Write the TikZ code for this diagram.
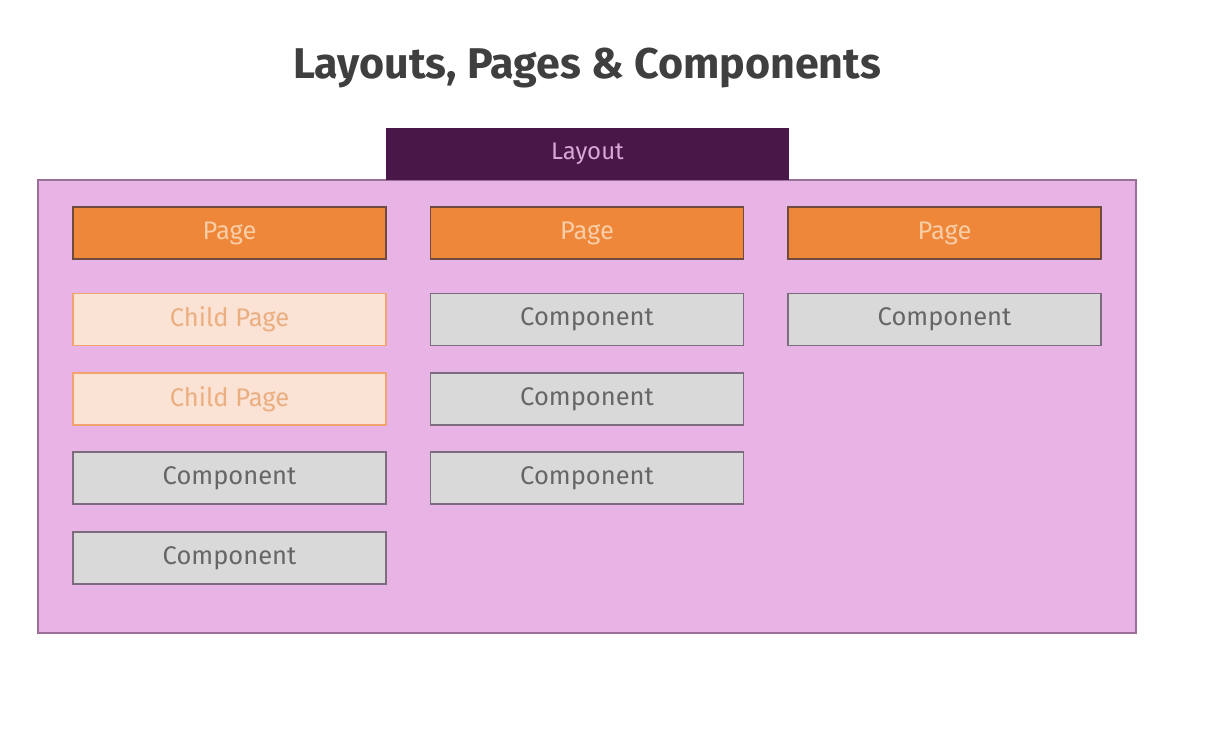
\documentclass[tikz,border=0pt]{standalone}
\usepackage{fontspec}
\setmainfont{Fira Sans}
\definecolor{layoutdark}{HTML}{4A1848}
\definecolor{layouttext}{HTML}{D9A6D6}
\definecolor{pinkfill}{HTML}{E8B4E6}
\definecolor{pinkline}{HTML}{9A7099}
\definecolor{pagefill}{HTML}{EE873A}
\definecolor{pageline}{HTML}{6E4B3C}
\definecolor{pagetext}{HTML}{F9CDA6}
\definecolor{childfill}{HTML}{FAE3D4}
\definecolor{childline}{HTML}{F2A46E}
\definecolor{childtext}{HTML}{EBAE80}
\definecolor{compfill}{HTML}{D9D9D9}
\definecolor{compline}{HTML}{7D6C7D}
\definecolor{comptext}{HTML}{666666}
\definecolor{titletext}{HTML}{3F3F3F}
\begin{document}
\begin{tikzpicture}[x=1pt,y=-1pt,
  boxbase/.style={draw, line width=1.6pt, minimum width=313pt, minimum height=52pt,
    inner sep=0pt, font=\fontsize{25.5}{29}\selectfont},
  pagebox/.style={boxbase, fill=pagefill, draw=pageline, text=pagetext},
  childbox/.style={boxbase, fill=childfill, draw=childline, text=childtext},
  compbox/.style={boxbase, fill=compfill, draw=compline, text=comptext}]
\useasboundingbox (0,0) rectangle (1222,740);
\fill[white] (0,0) rectangle (1222,740);

% title
\node[font=\fontsize{43}{50}\selectfont\bfseries, text=titletext] (title) at (587,68) {Layouts, Pages \& Components};

% layout frame and tab
\draw[fill=pinkfill, draw=pinkline, line width=1.6pt] (38,180) rectangle (1136,633);
\node[fill=layoutdark, minimum width=403pt, minimum height=52pt, inner sep=0pt,
  text=layouttext, font=\fontsize{24}{28}\selectfont] (layout) at (587.5,154) {Layout};

% column 1
\node[pagebox]  (p1)  at (229.5,233) {Page};
\node[childbox] (c11) at (229.5,319.5) {Child Page};
\node[childbox] (c12) at (229.5,399) {Child Page};
\node[compbox]  (c13) at (229.5,478) {Component};
\node[compbox]  (c14) at (229.5,558) {Component};

% column 2
\node[pagebox]  (p2)  at (587,233) {Page};
\node[compbox]  (c21) at (587,319.5) {Component};
\node[compbox]  (c22) at (587,399) {Component};
\node[compbox]  (c23) at (587,478) {Component};

% column 3
\node[pagebox]  (p3)  at (944.5,233) {Page};
\node[compbox]  (c31) at (944.5,319.5) {Component};
\end{tikzpicture}
\end{document}
